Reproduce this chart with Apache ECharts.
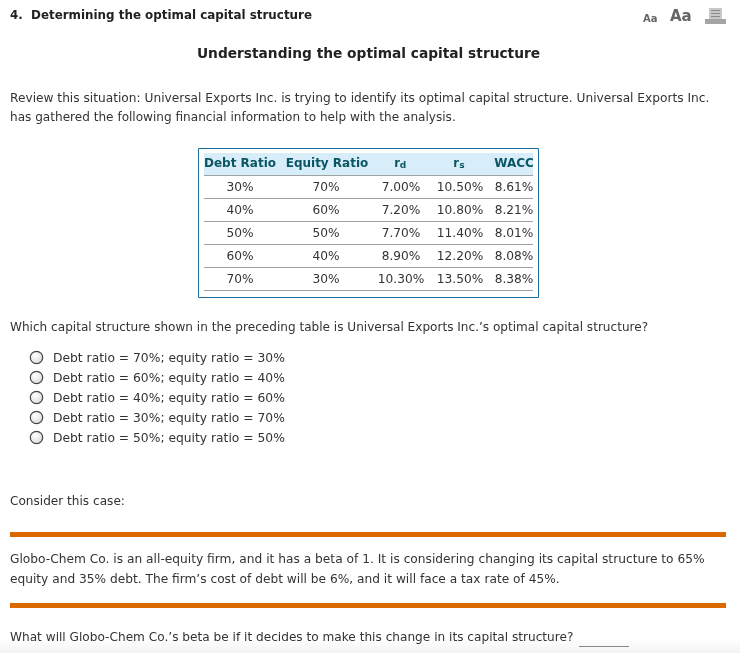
<!DOCTYPE html>
<html>
<head>
<meta charset="utf-8">
<style>html,body{margin:0;padding:0;background:#fff}#main{width:740px;height:653px}</style>
<script src="https://cdn.jsdelivr.net/npm/echarts@6/dist/echarts.min.js"></script>
</head>
<body>
<div id="main"></div>
<script>
// table data
var headers = ['Debt Ratio', 'Equity Ratio', 'r', 'r', 'WACC'];
var headerSubs = ['', '', 'd', 's', ''];
var debtRatio = ['30%', '40%', '50%', '60%', '70%'];
var equityRatio = ['70%', '60%', '50%', '40%', '30%'];
var rd = ['7.00%', '7.20%', '7.70%', '8.90%', '10.30%'];
var rs = ['10.50%', '10.80%', '11.40%', '12.20%', '13.50%'];
var wacc = ['8.61%', '8.21%', '8.01%', '8.08%', '8.38%'];
var choices = [
    'Debt ratio = 70%; equity ratio = 30%',
    'Debt ratio = 60%; equity ratio = 40%',
    'Debt ratio = 40%; equity ratio = 60%',
    'Debt ratio = 30%; equity ratio = 70%',
    'Debt ratio = 50%; equity ratio = 50%'
];

var FONT = '"DejaVu Sans", Verdana, sans-serif';
var TXT = '#333333';
var TEAL = '#0b5563';
var ORANGE = '#dc6800';

var myChart = echarts.init(document.getElementById('main'), null, {renderer: 'canvas'});
var els = [];

function text(x, y, str, opt) {
    opt = opt || {};
    els.push({
        type: 'text', x: x, y: y + 2, silent: true,
        style: {
            text: str,
            fill: opt.color || TXT,
            font: (opt.bold ? 'bold ' : '') + (opt.size || 12.2) + 'px ' + FONT,
            textAlign: opt.align || 'left',
            textVerticalAlign: 'middle'
        }
    });
}
function rect(x, y, w, h, fill) {
    els.push({type: 'rect', silent: true, shape: {x: x, y: y, width: w, height: h}, style: {fill: fill}});
}

// faint shade along the bottom edge
els.push({type: 'rect', silent: true, shape: {x: 0, y: 638, width: 740, height: 15},
    style: {fill: new echarts.graphic.LinearGradient(0, 0, 0, 1, [
        {offset: 0, color: '#ffffff'},
        {offset: 1, color: '#f3f3f3'}
    ])}});

// heading
text(10, 14, '4.  Determining the optimal capital structure', {bold: true, color: '#222222', size: 11.9});
text(643, 17, 'Aa', {size: 10, bold: true, color: '#666666'});
text(670, 15, 'Aa', {size: 15, bold: true, color: '#666666'});
// print icon
rect(709, 8, 13, 11, '#c8c8c8');
rect(711, 10, 9, 1, '#8a8a8a');
rect(711, 13, 9, 1, '#8a8a8a');
rect(711, 16, 9, 1, '#8a8a8a');
rect(705, 19, 21, 5, '#a4a4a4');

text(368.5, 52, 'Understanding the optimal capital structure', {bold: true, size: 13.75, align: 'center', color: '#222222'});
text(10, 97, 'Review this situation: Universal Exports Inc. is trying to identify its optimal capital structure. Universal Exports Inc.', {size: 12.2});
text(10, 116, 'has gathered the following financial information to help with the analysis.', {size: 12.08});

// table
var colX = [240, 327, 401, 460, 514];
var rowY = [186, 209, 232, 255, 278];
var lineY = [175, 198, 221, 244, 267, 290];
var columns = [debtRatio, equityRatio, rd, rs, wacc];
els.push({type: 'rect', silent: true, shape: {x: 198.5, y: 148.5, width: 340, height: 149},
    style: {fill: '#fff', stroke: '#1c6f9e', lineWidth: 1}});
rect(204, 153, 329, 22, '#d7edf9');
headers.forEach(function (h, i) {
    var size = h.length > 1 ? 12 : 11.5;
    var x = h.length > 1 ? colX[i] : colX[i] - 4;
    text(x, 162, h, {bold: true, align: 'center', color: TEAL, size: size});
    if (headerSubs[i]) {
        text(x + 6, 164, headerSubs[i], {bold: true, color: TEAL, size: 9, align: 'center'});
    }
});
lineY.forEach(function (y) {
    rect(204, y, 329, 1, '#a0a0a0');
});
columns.forEach(function (col, c) {
    col.forEach(function (v, r) {
        text(c === 1 ? 326 : colX[c], rowY[r], v, {align: 'center'});
    });
});

text(10, 326, 'Which capital structure shown in the preceding table is Universal Exports Inc.\u2019s optimal capital structure?', {size: 12.08});

// radio choices
choices.forEach(function (c, i) {
    var y = 357.5 + i * 20;
    els.push({
        type: 'circle', silent: true,
        shape: {cx: 36.5, cy: y, r: 6.2},
        style: {
            fill: new echarts.graphic.RadialGradient(0.4, 0.35, 0.8, [
                {offset: 0, color: '#ffffff'},
                {offset: 0.6, color: '#e4e4e4'},
                {offset: 1, color: '#a8a8a8'}
            ]),
            stroke: '#444444', lineWidth: 1.2
        }
    });
    text(53, y - 0.5, c, {size: 12.31});
});

text(10, 500, 'Consider this case:', {size: 12.1});

// case box
rect(10, 532, 716, 5, ORANGE);
text(10, 558, 'Globo-Chem Co. is an all-equity firm, and it has a beta of 1. It is considering changing its capital structure to 65%', {size: 12.22});
text(10, 578, 'equity and 35% debt. The firm\u2019s cost of debt will be 6%, and it will face a tax rate of 45%.', {size: 12.2});
rect(10, 603, 716, 5, ORANGE);

text(10, 636, 'What will Globo-Chem Co.\u2019s beta be if it decides to make this change in its capital structure?', {size: 12.13});
rect(579, 646, 50, 1, '#888888');

option = {
    backgroundColor: '#ffffff',
    animation: false,
    graphic: {elements: els}
};
myChart.setOption(option, true);
</script>
</body>
</html>
